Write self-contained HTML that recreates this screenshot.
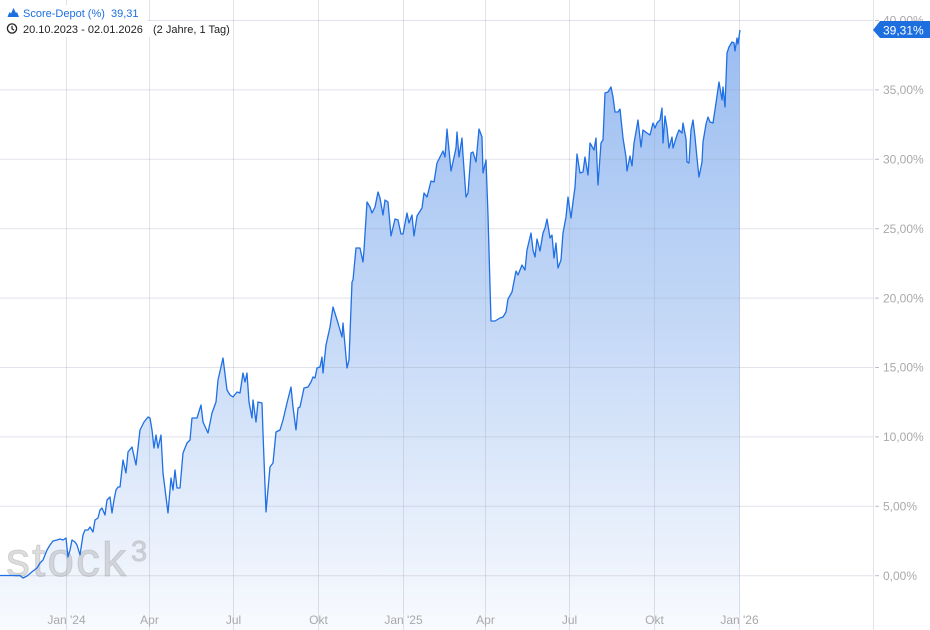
<!DOCTYPE html>
<html><head><meta charset="utf-8">
<style>
html,body{margin:0;padding:0;background:#fff;}
body{width:930px;height:630px;overflow:hidden;}
svg{display:block;font-family:"Liberation Sans",sans-serif;}
</style></head>
<body>
<svg width="930" height="630" viewBox="0 0 930 630" xmlns="http://www.w3.org/2000/svg">
<defs>
<linearGradient id="fg" x1="0" y1="30" x2="0" y2="630" gradientUnits="userSpaceOnUse">
<stop offset="0" stop-color="#95b9f0"/>
<stop offset="0.5" stop-color="#c2d7f6"/>
<stop offset="1" stop-color="#f8fafe"/>
</linearGradient>
</defs>
<rect width="930" height="630" fill="#fff"/>
<!-- fill -->
<path fill="url(#fg)" fill-opacity="0.95" d="M0,575.5 L20,575.5 L23,578 L27,576 L33,571 L37,568 L40,563 L43,560 L45,555 L47,550 L50,545 L53,541 L57,540 L60,539 L63,540 L66,538 L68,557 L70,550 L72,540 L75,542 L77,545 L80,555 L83,535 L85,530 L88,530 L90,527 L93,532 L95,520 L98,518 L100,510 L102,508 L105,515 L107,500 L110,497 L112,513 L114,500 L116,490 L118,487 L120,487 L123,460 L126,473 L128,452 L132,447 L136,465 L140,430 L144,422 L148,417 L150,418 L152,430 L154,448 L156,435 L158,448 L161,435 L163,473 L168,513 L171,478 L173,490 L175,470 L177,488 L180,488 L183,453 L187,443 L190,440 L192,418 L197,418 L201,405 L203,422 L208,433 L212,413 L216,402 L218,380 L223,358 L227,390 L230,395 L233,397 L237,392 L240,393 L243,373 L245,382 L247,373 L249,402 L252,418 L253,400 L256,422 L258,402 L262,403 L263,433 L266,512 L270,467 L273,463 L276,432 L280,430 L283,420 L287,403 L291,387 L293,407 L296,430 L298,408 L300,407 L304,388 L308,387 L311,382 L313,377 L315,378 L317,368 L320,367 L322,357 L323,373 L326,345 L330,327 L333,307 L338,323 L342,337 L343,323 L347,368 L349,360 L352,282 L353,280 L356,248 L360,248 L363,262 L364,250 L367,202 L370,207 L372,213 L375,207 L378,192 L380,198 L383,215 L385,200 L388,202 L391,236 L395,219 L398,220 L401,234 L403,234 L407,213 L409,223 L412,215 L414,236 L417,216 L422,208 L424,193 L427,197 L431,181 L434,182 L437,163 L440,157 L443,151 L445,157 L447,129 L451,171 L453,162 L456,148 L457,132 L459,157 L462,138 L463,155 L466,197 L468,193 L471,153 L473,152 L476,162 L479,129 L482,137 L483,173 L486,160 L488,215 L491,321 L495,321 L500,318 L503,317 L506,312 L508,299 L512,292 L516,271 L518,275 L522,265 L525,270 L527,250 L531,233 L533,250 L535,257 L537,239 L540,251 L543,233 L545,228 L547,219 L550,238 L552,235 L554,258 L556,243 L558,268 L561,260 L563,233 L566,217 L568,197 L571,218 L573,202 L575,187 L577,154 L580,173 L583,172 L585,157 L588,175 L590,143 L594,150 L596,138 L598,185 L601,143 L603,140 L605,93 L608,92 L611,87 L613,97 L615,112 L618,112 L620,109 L623,138 L626,157 L627,171 L630,156 L632,166 L634,143 L636,132 L638,120 L641,147 L643,130 L647,133 L650,135 L653,123 L655,128 L657,123 L660,120 L662,108 L663,143 L665,116 L667,128 L669,148 L672,137 L673,148 L677,135 L679,130 L682,133 L683,123 L686,139 L687,162 L689,163 L691,130 L693,120 L695,137 L697,158 L699,177 L702,162 L703,142 L706,124 L708,117 L710,122 L713,123 L716,103 L719,82 L722,100 L723,87 L725,107 L727,53 L729,47 L732,42 L734,43 L735,51 L737,38 L738,44 L740,30 L740,630 L0,630 Z"/>
<!-- grid -->
<g stroke="#9a9fba" stroke-opacity="0.3" stroke-width="1" fill="none">
<line x1="0" y1="20.5" x2="873" y2="20.5"/>
<line x1="0" y1="89.9" x2="873" y2="89.9"/>
<line x1="0" y1="159.3" x2="873" y2="159.3"/>
<line x1="0" y1="228.7" x2="873" y2="228.7"/>
<line x1="0" y1="298.1" x2="873" y2="298.1"/>
<line x1="0" y1="367.5" x2="873" y2="367.5"/>
<line x1="0" y1="436.9" x2="873" y2="436.9"/>
<line x1="0" y1="506.3" x2="873" y2="506.3"/>
<line x1="0" y1="575.7" x2="873" y2="575.7"/>
<line x1="66.5" y1="0" x2="66.5" y2="630"/>
<line x1="149.5" y1="0" x2="149.5" y2="630"/>
<line x1="233.5" y1="0" x2="233.5" y2="630"/>
<line x1="318.5" y1="0" x2="318.5" y2="630"/>
<line x1="403.5" y1="0" x2="403.5" y2="630"/>
<line x1="485.5" y1="0" x2="485.5" y2="630"/>
<line x1="569.5" y1="0" x2="569.5" y2="630"/>
<line x1="654.5" y1="0" x2="654.5" y2="630"/>
<line x1="739.5" y1="0" x2="739.5" y2="630"/>
<line x1="873.5" y1="0" x2="873.5" y2="630"/>
</g>
<g stroke="#bdbdc6" stroke-width="1">
<line x1="875" y1="20.5" x2="879" y2="20.5"/>
<line x1="875" y1="89.9" x2="879" y2="89.9"/>
<line x1="875" y1="159.3" x2="879" y2="159.3"/>
<line x1="875" y1="228.7" x2="879" y2="228.7"/>
<line x1="875" y1="298.1" x2="879" y2="298.1"/>
<line x1="875" y1="367.5" x2="879" y2="367.5"/>
<line x1="875" y1="436.9" x2="879" y2="436.9"/>
<line x1="875" y1="506.3" x2="879" y2="506.3"/>
<line x1="875" y1="575.7" x2="879" y2="575.7"/>
</g>
<!-- watermark -->
<g fill="#a0a0a0" stroke="#a0a0a0" fill-opacity="0.36" stroke-opacity="0.36" stroke-width="1">
<text x="6" y="576" font-size="48" letter-spacing="2">stock</text>
<text x="131" y="561" font-size="29">3</text>
</g>
<!-- line -->
<path fill="none" stroke="#1f6fe5" stroke-width="1.3" stroke-linejoin="round" d="M0,575.5 L20,575.5 L23,578 L27,576 L33,571 L37,568 L40,563 L43,560 L45,555 L47,550 L50,545 L53,541 L57,540 L60,539 L63,540 L66,538 L68,557 L70,550 L72,540 L75,542 L77,545 L80,555 L83,535 L85,530 L88,530 L90,527 L93,532 L95,520 L98,518 L100,510 L102,508 L105,515 L107,500 L110,497 L112,513 L114,500 L116,490 L118,487 L120,487 L123,460 L126,473 L128,452 L132,447 L136,465 L140,430 L144,422 L148,417 L150,418 L152,430 L154,448 L156,435 L158,448 L161,435 L163,473 L168,513 L171,478 L173,490 L175,470 L177,488 L180,488 L183,453 L187,443 L190,440 L192,418 L197,418 L201,405 L203,422 L208,433 L212,413 L216,402 L218,380 L223,358 L227,390 L230,395 L233,397 L237,392 L240,393 L243,373 L245,382 L247,373 L249,402 L252,418 L253,400 L256,422 L258,402 L262,403 L263,433 L266,512 L270,467 L273,463 L276,432 L280,430 L283,420 L287,403 L291,387 L293,407 L296,430 L298,408 L300,407 L304,388 L308,387 L311,382 L313,377 L315,378 L317,368 L320,367 L322,357 L323,373 L326,345 L330,327 L333,307 L338,323 L342,337 L343,323 L347,368 L349,360 L352,282 L353,280 L356,248 L360,248 L363,262 L364,250 L367,202 L370,207 L372,213 L375,207 L378,192 L380,198 L383,215 L385,200 L388,202 L391,236 L395,219 L398,220 L401,234 L403,234 L407,213 L409,223 L412,215 L414,236 L417,216 L422,208 L424,193 L427,197 L431,181 L434,182 L437,163 L440,157 L443,151 L445,157 L447,129 L451,171 L453,162 L456,148 L457,132 L459,157 L462,138 L463,155 L466,197 L468,193 L471,153 L473,152 L476,162 L479,129 L482,137 L483,173 L486,160 L488,215 L491,321 L495,321 L500,318 L503,317 L506,312 L508,299 L512,292 L516,271 L518,275 L522,265 L525,270 L527,250 L531,233 L533,250 L535,257 L537,239 L540,251 L543,233 L545,228 L547,219 L550,238 L552,235 L554,258 L556,243 L558,268 L561,260 L563,233 L566,217 L568,197 L571,218 L573,202 L575,187 L577,154 L580,173 L583,172 L585,157 L588,175 L590,143 L594,150 L596,138 L598,185 L601,143 L603,140 L605,93 L608,92 L611,87 L613,97 L615,112 L618,112 L620,109 L623,138 L626,157 L627,171 L630,156 L632,166 L634,143 L636,132 L638,120 L641,147 L643,130 L647,133 L650,135 L653,123 L655,128 L657,123 L660,120 L662,108 L663,143 L665,116 L667,128 L669,148 L672,137 L673,148 L677,135 L679,130 L682,133 L683,123 L686,139 L687,162 L689,163 L691,130 L693,120 L695,137 L697,158 L699,177 L702,162 L703,142 L706,124 L708,117 L710,122 L713,123 L716,103 L719,82 L722,100 L723,87 L725,107 L727,53 L729,47 L732,42 L734,43 L735,51 L737,38 L738,44 L740,30"/>
<!-- y labels -->
<g font-size="12" fill="#a9a9a9">
<text x="883" y="24.5">40,00%</text>
<text x="883" y="94">35,00%</text>
<text x="883" y="163.5">30,00%</text>
<text x="883" y="233">25,00%</text>
<text x="883" y="302.5">20,00%</text>
<text x="883" y="371.5">15,00%</text>
<text x="883" y="441">10,00%</text>
<text x="883" y="510.5">5,00%</text>
<text x="883" y="580">0,00%</text>
</g>
<!-- value marker -->
<polygon points="873,30 880,21 930,21 930,38 880,38" fill="#1d6fe0"/>
<text x="883" y="34.5" font-size="12" fill="#fff">39,31%</text>
<!-- x labels -->
<g font-size="12" fill="#a9a9a9" text-anchor="middle">
<text x="66.5" y="624">Jan '24</text>
<text x="149.5" y="624">Apr</text>
<text x="233.5" y="624">Jul</text>
<text x="318.5" y="624">Okt</text>
<text x="403.5" y="624">Jan '25</text>
<text x="485.5" y="624">Apr</text>
<text x="569.5" y="624">Jul</text>
<text x="654.5" y="624">Okt</text>
<text x="739.5" y="624">Jan '26</text>
</g>
<!-- header -->
<rect x="0" y="5" width="147" height="16" fill="#fff"/>
<rect x="0" y="21" width="232" height="16" fill="#fff"/>
<polygon points="7.5,17 9.5,12 11,13.5 13.5,8 16,13 17,12 19,17" fill="#1d6fe0"/>
<text x="23" y="17" font-size="11" fill="#1d6fe0">Score-Depot (%)</text>
<text x="111" y="17" font-size="11" fill="#1d6fe0">39,31</text>
<circle cx="12" cy="28.5" r="4.6" fill="none" stroke="#222" stroke-width="1.3"/>
<path d="M12,25.8 L12,28.8 L14,30.2" fill="none" stroke="#222" stroke-width="1.2"/>
<text x="23" y="33" font-size="11" fill="#222">20.10.2023 - 02.01.2026</text>
<text x="153" y="33" font-size="11" fill="#222">(2 Jahre, 1 Tag)</text>
</svg>
</body></html>
